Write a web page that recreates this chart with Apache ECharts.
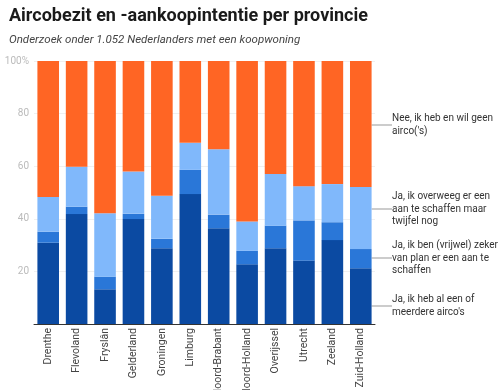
<!DOCTYPE html>
<html>
<head>
<meta charset="utf-8">
<script src="https://cdn.jsdelivr.net/npm/echarts@6/dist/echarts.min.js"></script>
<style>
  html, body { margin: 0; padding: 0; background: #fff; }
  #chart { width: 500px; height: 390px; }
</style>
</head>
<body>
<div id="chart"></div>
<script>
const provinces = ["Drenthe", "Flevoland", "Fryslân", "Gelderland", "Groningen", "Limburg",
  "Noord-Brabant", "Noord-Holland", "Overijssel", "Utrecht", "Zeeland", "Zuid-Holland"];

const hebAl = [30.9, 41.8, 13.2, 39.9, 28.8, 49.4, 36.4, 22.7, 28.8, 24.1, 31.9, 21.2];
const zekerVanPlan = [4.2, 2.8, 4.8, 2.0, 3.6, 9.2, 5.2, 5.1, 8.6, 15.3, 6.8, 7.3];
const overweeg = [13.2, 15.2, 24.1, 16.1, 16.4, 10.3, 24.8, 11.2, 19.6, 13.0, 14.5, 23.6];
const nee = [51.7, 40.2, 57.9, 42.0, 51.2, 31.1, 33.6, 61.0, 43.0, 47.6, 46.8, 47.9];

const seriesNames = [
  "Ja, ik heb al een of\nmeerdere airco's",
  "Ja, ik ben (vrijwel) zeker\nvan plan er een aan te\nschaffen",
  "Ja, ik overweeg er een\naan te schaffen maar\ntwijfel nog",
  "Nee, ik heb en wil geen\nairco('s)"
];
const colors = ["#0b4aa2", "#2a77d8", "#80b8fb", "#ff6524"];
const labelY = [306, 258, 209, 125];

function makeSeries(values, idx) {
  const last = values.length - 1;
  return {
    name: seriesNames[idx],
    type: "bar",
    stack: "total",
    barCategoryGap: "24%",
    itemStyle: { color: colors[idx] },
    data: values.map((v, i) => i === last
      ? { value: v, label: { show: true }, labelLine: { show: true } }
      : v),
    label: {
      show: false,
      position: "right",
      formatter: () => seriesNames[idx],
      color: "#333",
      fontSize: 10,
      lineHeight: 12.5,
      fontFamily: "Roboto"
    },
    labelLine: {
      show: false,
      lineStyle: { color: "#999", width: 1 }
    },
    labelLayout: {
      x: 392,
      y: labelY[idx],
      align: "left",
      verticalAlign: "middle"
    }
  };
}

const chart = echarts.init(document.getElementById("chart"));
chart.setOption({
  animation: false,
  backgroundColor: "#fff",
  title: {
    text: "Aircobezit en -aankoopintentie per provincie",
    subtext: "Onderzoek onder 1.052 Nederlanders met een koopwoning",
    left: 4,
    top: 2,
    itemGap: 9,
    textStyle: { fontFamily: "Roboto", fontWeight: "bold", fontSize: 18, color: "#1a1a1a" },
    subtextStyle: { fontFamily: "Roboto", fontStyle: "italic", fontSize: 11.5, color: "#444" }
  },
  grid: { left: 34, right: 125, top: 61, bottom: 66, outerBoundsMode: "none", containLabel: false },
  xAxis: {
    type: "category",
    data: provinces,
    axisLine: { lineStyle: { color: "#333" } },
    axisTick: { show: false },
    axisLabel: { rotate: 90, color: "#444", fontSize: 10.5, fontFamily: "Roboto", margin: 4, interval: 0 }
  },
  yAxis: {
    type: "value",
    min: 0,
    max: 100,
    interval: 20,
    axisLine: { show: false },
    axisTick: { show: false },
    splitLine: { lineStyle: { color: "#f0f0f0" } },
    axisLabel: {
      color: "#bbb",
      fontSize: 10,
      fontFamily: "Roboto",
      margin: 5,
      formatter: v => v === 100 ? "100%" : (v === 0 ? "" : String(v))
    }
  },
  series: [hebAl, zekerVanPlan, overweeg, nee].map(makeSeries)
});
</script>
</body>
</html>
